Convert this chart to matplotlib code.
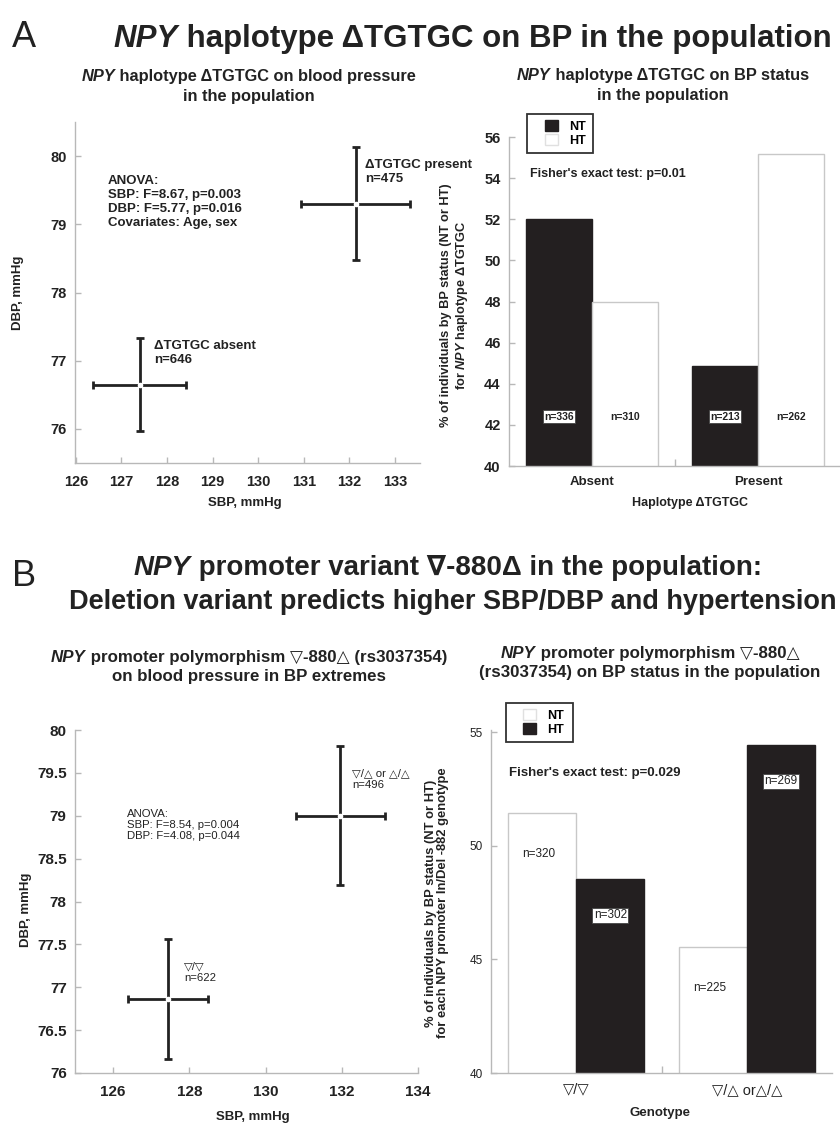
import matplotlib
matplotlib.use('Agg')
import matplotlib.pyplot as plt
from matplotlib import font_manager as fm
from matplotlib.patches import Patch, Rectangle

# ---- data: panel A ----
hap_groups = ['ΔTGTGC absent', 'ΔTGTGC present']
hap_n = [646, 475]
hap_sbp = [127.40, 132.14]
hap_sbp_err = [1.02, 1.20]
hap_dbp = [76.65, 79.30]
hap_dbp_err = [0.68, 0.83]

hap_cats = ['Absent', 'Present']
hap_nt_pct = [52.0, 44.85]
hap_ht_pct = [48.0, 55.15]
hap_nt_n = [336, 213]
hap_ht_n = [310, 262]

# ---- data: panel B ----
gen_groups = ['▽/▽', '▽/△ or △/△']
gen_n = [622, 496]
gen_sbp = [127.44, 131.96]
gen_sbp_err = [1.05, 1.17]
gen_dbp = [76.86, 79.00]
gen_dbp_err = [0.70, 0.81]

gen_cats = ['▽/▽', '▽/△ or△/△']
gen_nt_pct = [51.45, 45.55]
gen_ht_pct = [48.55, 54.45]
gen_nt_n = [320, 225]
gen_ht_n = [302, 269]

names = {f.name for f in fm.fontManager.ttflist}
narrow = 'Liberation Sans Narrow' in names
TFONT = 'Liberation Sans Narrow' if narrow else 'Liberation Sans'
TSCALE = 1.2 if narrow else 1.0

plt.rcParams['font.family'] = ['Liberation Sans', 'DejaVu Sans']
plt.rcParams['mathtext.fontset'] = 'custom'
plt.rcParams['mathtext.it'] = 'Liberation Sans:italic:bold'
plt.rcParams['mathtext.rm'] = 'Liberation Sans:bold'

INK = '#222222'
GREY = '#b8b8b8'
BLACK = '#231f20'

W, H = 840, 1131
fig = plt.figure(figsize=(8.4, 11.31), dpi=100)


def box(l, t, r, b):
    return [l / W, 1 - b / H, (r - l) / W, (b - t) / H]


def fy(ypx):
    return 1 - ypx / H


def rich_line(xc, ypx, parts, size, family):
    # parts drawn one after another, centred as a whole on xc (pixels)
    r = fig.canvas.get_renderer()
    objs = [fig.text(0, fy(ypx), s, fontsize=size, fontweight='bold', fontstyle=st,
                     family=family, va='baseline', color=INK) for s, st in parts]
    ws = [o.get_window_extent(r).width for o in objs]
    x = xc - sum(ws) / 2
    for o, w in zip(objs, ws):
        o.set_x(x / W)
        x += w


def style(ax, bold=True, size=10.5, xpad=8, ypad=6):
    for s in ['top', 'right']:
        ax.spines[s].set_visible(False)
    for s in ['left', 'bottom']:
        ax.spines[s].set_color(GREY)
        ax.spines[s].set_linewidth(1.0)
    ax.tick_params(direction='in', color=GREY, length=4, width=1, labelsize=size, labelcolor=INK)
    ax.tick_params(axis='x', pad=xpad)
    ax.tick_params(axis='y', pad=ypad)
    ax.tick_params(which='minor', direction='in', color=GREY, length=5, width=1)
    for lab in ax.get_xticklabels() + ax.get_yticklabels():
        lab.set_fontweight('bold' if bold else 'normal')


def cross(ax, x, y, xe, ye):
    ax.errorbar(x, y, xerr=xe, yerr=ye, fmt='o', color=INK, ecolor=INK, elinewidth=2,
                capsize=3, capthick=2, ms=3, mfc='white', mec='white', zorder=3)


def legend_box(ax, handles, l, t, r, b, tx, ty):
    ax.add_patch(Rectangle((l / W, fy(b)), (r - l) / W, (b - t) / H, transform=fig.transFigure,
                           fc='white', ec='#333333', lw=1.3, zorder=5, clip_on=False))
    leg = ax.legend(handles=handles, loc='upper left', bbox_to_anchor=(tx / W, fy(ty)),
                    bbox_transform=fig.transFigure, prop={'weight': 'bold', 'size': 9},
                    frameon=False, borderpad=0, handlelength=1.0, handleheight=1.0,
                    handletextpad=0.9, labelspacing=0.1, borderaxespad=0)
    leg.set_zorder(6)


# ---- headings ----
fig.text(12 / W, fy(47), 'A', fontsize=26, family=TFONT, color=INK, va='baseline')
rich_line(473, 47, [('NPY', 'italic'), (' haplotype ΔTGTGC on BP in the population', 'normal')],
          22.5 * TSCALE, [TFONT, 'DejaVu Sans'])
fig.text(12 / W, fy(586), 'B', fontsize=26, family=TFONT, color=INK, va='baseline')
rich_line(448, 575, [('NPY', 'italic'), (' promoter variant ∇-880Δ in the population:', 'normal')],
          20 * TSCALE, [TFONT, 'DejaVu Sans'])
rich_line(453, 609, [('Deletion variant predicts higher SBP/DBP and hypertension', 'normal')],
          19.5 * TSCALE, [TFONT, 'DejaVu Sans'])

SUBA, SUBB = 11.8, 12.2
rich_line(249, 81, [('NPY', 'italic'), (' haplotype ΔTGTGC on blood pressure', 'normal')], SUBA, ['Liberation Sans', 'DejaVu Sans'])
rich_line(249, 101, [('in the population', 'normal')], SUBA, ['Liberation Sans'])
rich_line(663, 80, [('NPY', 'italic'), (' haplotype ΔTGTGC on BP status', 'normal')], SUBA, ['Liberation Sans', 'DejaVu Sans'])
rich_line(663, 100, [('in the population', 'normal')], SUBA, ['Liberation Sans'])
rich_line(249, 662, [('NPY', 'italic'), (' promoter polymorphism ▽-880△ (rs3037354)', 'normal')], SUBB, ['Liberation Sans', 'DejaVu Sans'])
rich_line(249, 681, [('on blood pressure in BP extremes', 'normal')], SUBB, ['Liberation Sans'])
rich_line(650, 658, [('NPY', 'italic'), (' promoter polymorphism ▽-880△', 'normal')], SUBB, ['Liberation Sans', 'DejaVu Sans'])
rich_line(650, 677, [('(rs3037354) on BP status in the population', 'normal')], SUBB, ['Liberation Sans'])

# ---- A left: SBP/DBP crosses ----
ax1 = fig.add_axes(box(75, 122, 420, 463))
for x, y, xe, ye in zip(hap_sbp, hap_dbp, hap_sbp_err, hap_dbp_err):
    cross(ax1, x, y, xe, ye)
ax1.set_xlim(125.98, 133.55)
ax1.set_ylim(75.5, 80.5)
ax1.set_xticks(range(126, 134))
ax1.set_yticks(range(76, 81))
style(ax1, xpad=9)
ax1.text(126.7, 79.73, 'ANOVA:\nSBP: F=8.67, p=0.003\nDBP: F=5.77, p=0.016\nCovariates: Age, sex',
         fontsize=9.5, fontweight='bold', va='top', ha='left', color=INK, linespacing=1.25)
ax1.text(127.71, 77.30, f'{hap_groups[0]}\nn={hap_n[0]}', fontsize=9.5, fontweight='bold',
         va='top', ha='left', color=INK, linespacing=1.25)
ax1.text(132.34, 79.96, f'{hap_groups[1]}\nn={hap_n[1]}', fontsize=9.5, fontweight='bold',
         va='top', ha='left', color=INK, linespacing=1.25)
fig.text(18 / W, fy(293), 'DBP, mmHg', rotation=90, fontsize=9.5, fontweight='bold', ha='center', va='center', color=INK)
fig.text(245 / W, fy(503), 'SBP, mmHg', fontsize=9.5, fontweight='bold', ha='center', va='center', color=INK)

# ---- A right: BP status bars ----
ax2 = fig.add_axes(box(509, 137, 841, 466))
xs = range(len(hap_cats))
ax2.bar([x - 0.2 for x in xs], hap_nt_pct, 0.4, color=BLACK, edgecolor=BLACK, lw=1, zorder=2)
ax2.bar([x + 0.2 for x in xs], hap_ht_pct, 0.4, color='white', edgecolor='#c8c8c8', lw=1, zorder=2)
ax2.set_xlim(-0.5, 1.5)
ax2.set_ylim(40, 56)
ax2.set_yticks(range(40, 57, 2))
ax2.set_xticks(list(xs), hap_cats)
ax2.set_xticks([0.5], minor=True)
style(ax2, xpad=7)
ax2.tick_params(axis='x', which='major', length=0, labelsize=9.5)
for x, n1, n2 in zip(xs, hap_nt_n, hap_ht_n):
    ax2.text(x - 0.2, 42.4, f'n={n1}', fontsize=7.5, fontweight='bold', ha='center', va='center', color=INK,
             bbox=dict(boxstyle='square,pad=0.12', fc='white', ec='#444444', lw=0.6), zorder=4)
    ax2.text(x + 0.2, 42.4, f'n={n2}', fontsize=7.5, fontweight='bold', ha='center', va='center', color=INK, zorder=4)
ax2.text(-0.374, 54.22, "Fisher's exact test: p=0.01", fontsize=9, fontweight='bold', ha='left', va='center', color=INK)
legend_box(ax2, [Patch(fc=BLACK, ec=BLACK, label='NT'), Patch(fc='white', ec='#e0e0e0', label='HT')],
           527, 114, 593, 153, 545, 120)
fig.text(455 / W, fy(305), '% of individuals by BP status (NT or HT)\nfor $\\mathit{NPY}$ haplotype ΔTGTGC',
         rotation=90, fontsize=9.2, fontweight='bold', ha='center', va='center', color=INK, linespacing=1.1)
fig.text(690 / W, fy(503), 'Haplotype ΔTGTGC', fontsize=9, fontweight='bold', ha='center', va='center', color=INK)

# ---- B left: SBP/DBP crosses ----
ax3 = fig.add_axes(box(75, 730, 418, 1073))
for x, y, xe, ye in zip(gen_sbp, gen_dbp, gen_sbp_err, gen_dbp_err):
    cross(ax3, x, y, xe, ye)
ax3.set_xlim(125, 134)
ax3.set_ylim(76, 80)
ax3.set_xticks(range(126, 135, 2))
ax3.set_yticks([76, 76.5, 77, 77.5, 78, 78.5, 79, 79.5, 80], ['76', '76.5', '77', '77.5', '78', '78.5', '79', '79.5', '80'])
style(ax3, size=11, xpad=9)
ax3.text(126.36, 79.08, 'ANOVA:\nSBP: F=8.54, p=0.004\nDBP: F=4.08, p=0.044',
         fontsize=8.2, va='top', ha='left', color=INK, linespacing=1.15)
ax3.text(127.86, 77.30, f'{gen_groups[0]}\nn={gen_n[0]}', fontsize=8.2, va='top', ha='left',
         color=INK, linespacing=1.2, family=['Liberation Sans', 'DejaVu Sans'])
ax3.text(132.27, 79.55, f'{gen_groups[1]}\nn={gen_n[1]}', fontsize=8.2, va='top', ha='left',
         color=INK, linespacing=1.2, family=['Liberation Sans', 'DejaVu Sans'])
fig.text(26 / W, fy(910), 'DBP, mmHg', rotation=90, fontsize=9.5, fontweight='bold', ha='center', va='center', color=INK)
fig.text(253 / W, fy(1117), 'SBP, mmHg', fontsize=9.5, fontweight='bold', ha='center', va='center', color=INK)

# ---- B right: BP status bars ----
ax4 = fig.add_axes(box(491, 730, 832, 1073))
xs = range(len(gen_cats))
ax4.bar([x - 0.2 for x in xs], gen_nt_pct, 0.4, color='white', edgecolor='#c8c8c8', lw=1, zorder=2)
ax4.bar([x + 0.2 for x in xs], gen_ht_pct, 0.4, color=BLACK, edgecolor=BLACK, lw=1, zorder=2)
ax4.set_xlim(-0.5, 1.5)
ax4.set_ylim(40, 55.1)
ax4.set_yticks([40, 45, 50, 55])
ax4.set_xticks(list(xs), gen_cats)
ax4.set_xticks([0.5], minor=True)
style(ax4, bold=False, size=8.5, xpad=7)
ax4.tick_params(axis='x', which='major', length=0, labelsize=10.5)
for x, p1, p2, n1, n2 in zip(xs, gen_nt_pct, gen_ht_pct, gen_nt_n, gen_ht_n):
    ax4.text(x - 0.22, p1 - 1.8, f'n={n1}', fontsize=8.5, ha='center', va='center', color=INK, zorder=4)
    ax4.text(x + 0.2, p2 - 1.6, f'n={n2}', fontsize=8.5, ha='center', va='center', color=INK, zorder=4,
             bbox=dict(boxstyle='square,pad=0.12', fc='white', ec='#444444', lw=0.6))
ax4.text(-0.394, 53.19, "Fisher's exact test: p=0.029", fontsize=9.5, fontweight='bold', ha='left', va='center', color=INK)
legend_box(ax4, [Patch(fc='white', ec='#e0e0e0', label='NT'), Patch(fc=BLACK, ec=BLACK, label='HT')],
           506, 703, 573, 742, 523, 709)
fig.text(437 / W, fy(903), '% of individuals by BP status (NT or HT)\nfor each NPY promoter In/Del -882 genotype',
         rotation=90, fontsize=9.35, fontweight='bold', ha='center', va='center', color=INK, linespacing=1.1)
fig.text(660 / W, fy(1113), 'Genotype', fontsize=9.5, fontweight='bold', ha='center', va='center', color=INK)

fig.savefig('out.png', dpi=100)
